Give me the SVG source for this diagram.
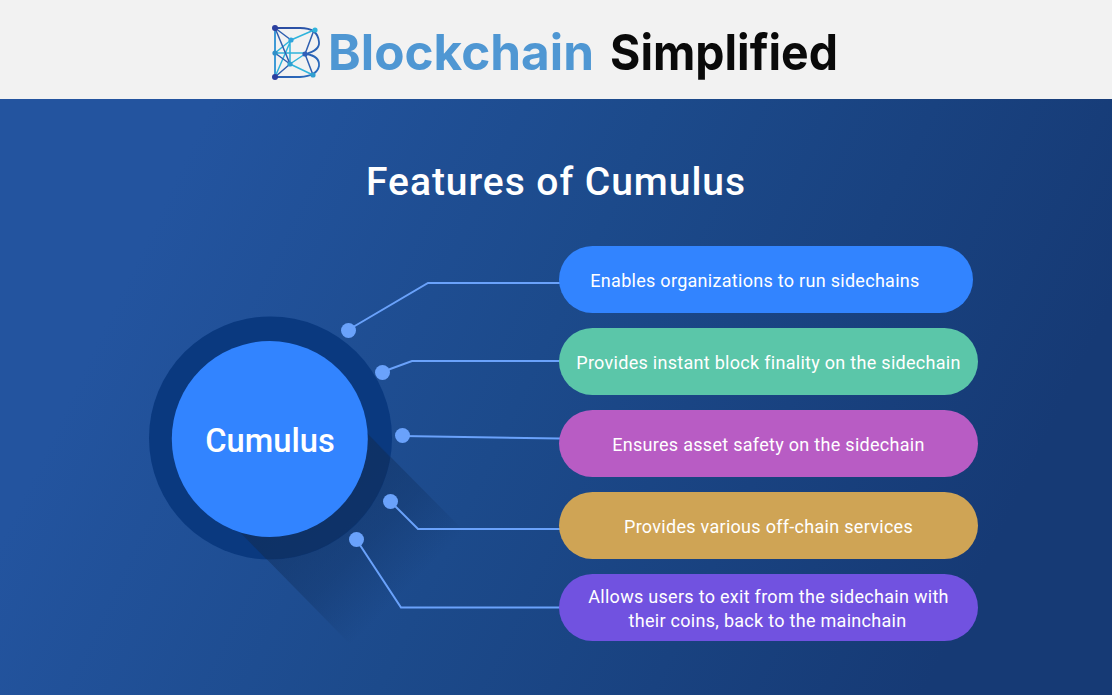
<svg xmlns="http://www.w3.org/2000/svg" width="1112" height="695" viewBox="0 0 1112 695">
<defs>
<linearGradient id="bg" gradientUnits="userSpaceOnUse" x1="150" y1="230" x2="960" y2="620"><stop offset="0" stop-color="#23549f"/><stop offset="0.45" stop-color="#1c4a8b"/><stop offset="1" stop-color="#163a75"/></linearGradient>
<linearGradient id="sh" gradientUnits="userSpaceOnUse" x1="300" y1="480" x2="408" y2="588"><stop offset="0" stop-color="#10305f" stop-opacity="0.62"/><stop offset="0.6" stop-color="#10305f" stop-opacity="0.36"/><stop offset="1" stop-color="#10305f" stop-opacity="0"/></linearGradient>
<linearGradient id="lg" gradientUnits="userSpaceOnUse" x1="275" y1="30" x2="320" y2="75"><stop offset="0" stop-color="#2b4a9f"/><stop offset="1" stop-color="#2a6fc0"/></linearGradient>
</defs>
<style>
.t{font-family:Roboto,"Liberation Sans",sans-serif;fill:#fff}
.p{font-size:18px;text-anchor:middle;letter-spacing:.29px}
.c{fill:none;stroke:#6aa2fb;stroke-width:2}
.d{fill:#6aa2fb}
.h{font-family:Inter,"Liberation Sans",sans-serif;font-weight:700;font-size:50px}
.l{fill:none;stroke:url(#lg);stroke-width:1.8}
.lc{stroke:#2fb4dc;stroke-width:1.5;fill:none}
.ld{stroke:#2f5fb0;stroke-width:1.5;fill:none}
</style>
<rect width="1112" height="695" fill="url(#bg)"/>
<rect width="1112" height="99" fill="#f2f2f2"/>
<g id="logo">
<path class="l" d="M275 28H300Q318 28 319 42Q320 50 306 54Q320 56 319 66Q317 76 300 77H275"/>
<path d="M275 28V77" stroke="#3f9ad6" stroke-width="2" fill="none"/>
<path class="lc" d="M291 40L314 30M275 53L291 40M305 54L290 64M275 53H305M290 64L313 75M290 40V64M291 40L275 77"/>
<path class="ld" d="M275 28L291 40M275 28L290 64M314 30L305 54M305 54L313 75M290 64L275 77M275 53L290 64"/>
<circle cx="275" cy="28" r="3" fill="#2b3f9f"/><circle cx="315" cy="30" r="2.600" fill="#2fb4dc"/><circle cx="291" cy="40" r="2.600" fill="#2fa4dc"/><circle cx="275" cy="53" r="2.600" fill="#2f8fc8"/><circle cx="305" cy="54" r="2.600" fill="#2f5fb8"/><circle cx="290" cy="64" r="2.600" fill="#2f9fd0"/><circle cx="275" cy="77" r="3" fill="#2b3f9f"/><circle cx="313" cy="75" r="2.600" fill="#2f9fd0"/>
</g>
<text id="brand1" class="h" x="328" y="70" fill="#4f97d3" textLength="266" lengthAdjust="spacingAndGlyphs">Blockchain</text>
<text id="brand2" class="h" x="610" y="70" fill="#0a0a0a" textLength="228" lengthAdjust="spacingAndGlyphs">Simplified</text>
<text id="title" class="t" x="556" y="195" font-size="39" font-weight="500" text-anchor="middle" letter-spacing=".95">Features of Cumulus</text>
<g id="hub">
<circle cx="270.500" cy="438" r="121.500" fill="#0a397f"/>
<path d="M366 432L465 532V560L350 644L238 530Z" fill="url(#sh)"/>
<path d="M366 432L390 458A121.500 121.500 0 0 1 266 559L238 530Z" fill="#10305f" fill-opacity=".5"/>
<circle cx="269.800" cy="439" r="98" fill="#3284ff"/>
<text class="t" x="270" y="452" font-size="32.700" font-weight="500" text-anchor="middle">Cumulus</text>
</g>
<g id="connectors">
<path class="c" d="M348 330L428 283H560"/>
<path class="c" d="M382 372L412 361H560"/>
<path class="c" d="M402 436L560 438.500"/>
<path class="c" d="M390 501L418 529H560"/>
<path class="c" d="M356 539L401 607.500H560"/>
<circle class="d" cx="348.500" cy="330.500" r="7.500"/>
<circle class="d" cx="382.500" cy="372.500" r="7.500"/>
<circle class="d" cx="402.500" cy="435.500" r="7.500"/>
<circle class="d" cx="390.500" cy="501.500" r="7.500"/>
<circle class="d" cx="356.500" cy="539.500" r="7.500"/>
</g>
<g id="n1"><rect x="559" y="246" width="414" height="67" rx="33.500" fill="#3284ff"/><text class="t p" x="755" y="287">Enables organizations to run sidechains</text></g>
<g id="n2"><rect x="559" y="328" width="419" height="67" rx="33.500" fill="#5bc6a9"/><text class="t p" x="768.500" y="369">Provides instant block finality on the sidechain</text></g>
<g id="n3"><rect x="559" y="410" width="419" height="67" rx="33.500" fill="#b85cc4"/><text class="t p" x="768.500" y="451">Ensures asset safety on the sidechain</text></g>
<g id="n4"><rect x="559" y="492" width="419" height="67" rx="33.500" fill="#cfa455"/><text class="t p" x="768.500" y="533">Provides various off-chain services</text></g>
<g id="n5"><rect x="559" y="574" width="419" height="67" rx="33.500" fill="#7152e0"/><text class="t p" x="768.500" y="603">Allows users to exit from the sidechain with</text><text class="t p" x="767.500" y="627">their coins, back to the mainchain</text></g>
</svg>
